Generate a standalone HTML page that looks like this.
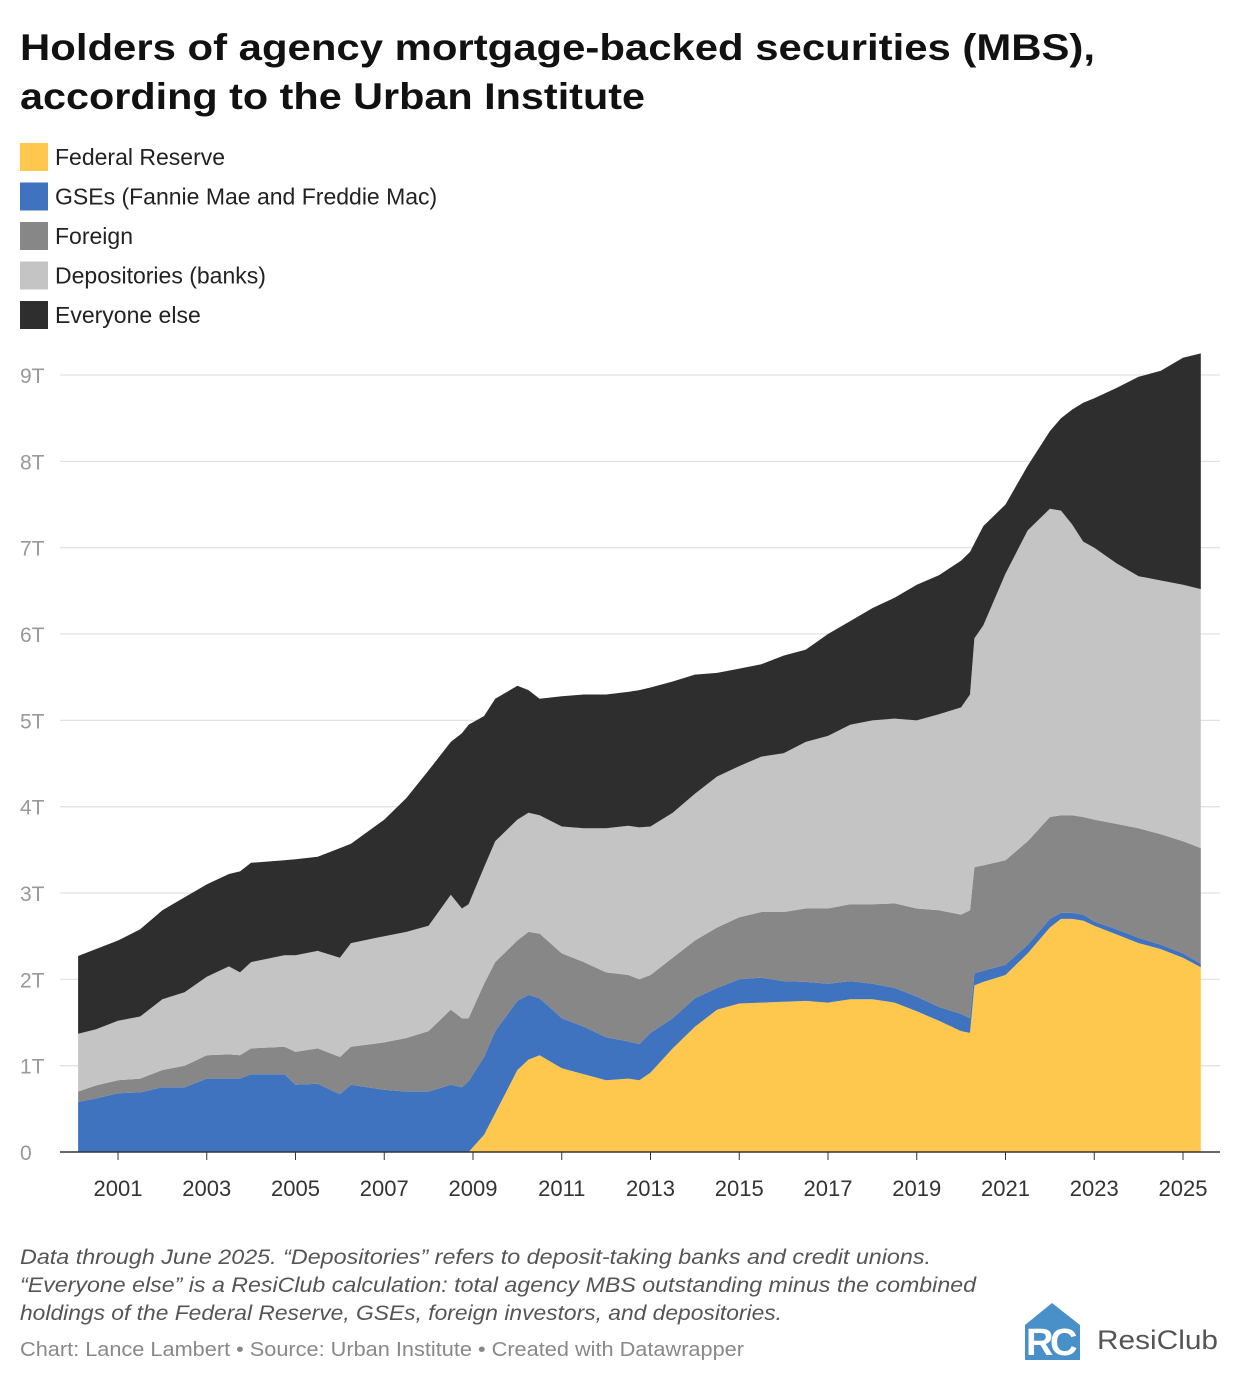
<!DOCTYPE html>
<html><head><meta charset="utf-8"><style>
body{margin:0;background:#fff;}
svg{display:block;font-family:"Liberation Sans",sans-serif;}
</style></head><body>
<svg width="1240" height="1382" viewBox="0 0 1240 1382" xmlns="http://www.w3.org/2000/svg">
<rect width="1240" height="1382" fill="#fff"/>
<g font-weight="bold" font-size="37" fill="#111">
<text x="20" y="60" textLength="1075" lengthAdjust="spacingAndGlyphs">Holders of agency mortgage-backed securities (MBS),</text>
<text x="20" y="109" textLength="625" lengthAdjust="spacingAndGlyphs">according to the Urban Institute</text>
</g>
<g id="legend" font-size="23" fill="#222"></g>
<g id="grid"></g>
<g id="areas"></g>
<g id="axes"></g>
<g font-size="21" font-style="italic" fill="#555">
<text x="20" y="1264" textLength="911" lengthAdjust="spacingAndGlyphs">Data through June 2025. “Depositories” refers to deposit-taking banks and credit unions.</text>
<text x="20" y="1292" textLength="956" lengthAdjust="spacingAndGlyphs">“Everyone else” is a ResiClub calculation: total agency MBS outstanding minus the combined</text>
<text x="20" y="1320" textLength="762" lengthAdjust="spacingAndGlyphs">holdings of the Federal Reserve, GSEs, foreign investors, and depositories.</text>
</g>
<text x="20" y="1356" font-size="20" fill="#888" textLength="724" lengthAdjust="spacingAndGlyphs">Chart: Lance Lambert • Source: Urban Institute • Created with Datawrapper</text>
<g>
<path d="M1025 1325 L1052 1303 L1080 1325 L1080 1360 L1025 1360 Z" fill="#4a90c8"/>
<text x="1026" y="1355" font-size="38" font-weight="bold" fill="#fff">R</text>
<text x="1050" y="1355" font-size="38" font-weight="bold" fill="#fff">C</text>
<text x="1097" y="1349" font-size="27" fill="#555" textLength="121" lengthAdjust="spacingAndGlyphs">ResiClub</text>
</g>
</svg>
<script>
const dates=[2000.1,2000.5,2001,2001.5,2002,2002.5,2003,2003.5,2003.75,2004,2004.75,2005,2005.5,2006,2006.25,2007,2007.5,2008,2008.5,2008.75,2008.9,2009.25,2009.5,2010,2010.25,2010.5,2011,2011.5,2012,2012.5,2012.75,2013,2013.5,2014,2014.5,2015,2015.5,2016,2016.5,2017,2017.5,2018,2018.5,2019,2019.5,2020,2020.2,2020.3,2020.5,2021,2021.5,2022,2022.25,2022.5,2022.75,2023,2023.5,2024,2024.5,2025,2025.4];
const fed=[0,0,0,0,0,0,0,0,0,0,0,0,0,0,0,0,0,0,0,0,0,.2,.45,.95,1.07,1.12,.97,.90,.83,.85,.83,.92,1.20,1.45,1.65,1.72,1.73,1.74,1.75,1.73,1.77,1.77,1.73,1.63,1.52,1.40,1.38,1.93,1.97,2.05,2.30,2.60,2.70,2.70,2.68,2.62,2.52,2.42,2.35,2.25,2.14];
const gse=[.58,.62,.68,.69,.75,.75,.85,.85,.85,.90,.90,.78,.79,.67,.78,.72,.70,.70,.78,.75,.82,.9,.95,.80,.75,.66,.58,.55,.50,.43,.42,.46,.35,.33,.25,.28,.29,.24,.22,.22,.21,.18,.17,.17,.16,.20,.17,.14,.13,.12,.10,.10,.07,.07,.07,.05,.06,.06,.05,.05,.04];
const foreign=[.12,.15,.15,.16,.20,.25,.27,.28,.27,.30,.32,.38,.41,.43,.44,.55,.62,.70,.87,.80,.73,.85,.8,.70,.73,.75,.75,.75,.75,.77,.75,.67,.70,.67,.70,.72,.76,.80,.85,.87,.89,.92,.98,1.02,1.12,1.15,1.25,1.23,1.22,1.21,1.20,1.18,1.13,1.13,1.13,1.18,1.22,1.27,1.28,1.30,1.34];
const depositories=[.67,.65,.69,.72,.82,.85,.91,1.02,.96,1.00,1.06,1.12,1.13,1.15,1.20,1.23,1.23,1.22,1.33,1.27,1.32,1.35,1.4,1.40,1.38,1.37,1.47,1.55,1.67,1.73,1.76,1.72,1.68,1.70,1.75,1.75,1.80,1.84,1.93,2.00,2.08,2.13,2.14,2.18,2.27,2.40,2.50,2.65,2.78,3.32,3.60,3.57,3.53,3.37,3.19,3.15,3.02,2.92,2.94,2.97,3.00];
const everyoneElse=[.90,.93,.93,1.01,1.03,1.10,1.07,1.07,1.17,1.15,1.10,1.11,1.09,1.27,1.15,1.35,1.55,1.80,1.77,2.03,2.08,1.75,1.65,1.55,1.42,1.35,1.51,1.55,1.55,1.55,1.59,1.61,1.52,1.38,1.20,1.13,1.07,1.13,1.07,1.18,1.20,1.30,1.40,1.57,1.61,1.70,1.65,1.10,1.15,.80,.75,.90,1.07,1.33,1.61,1.73,2.03,2.31,2.43,2.63,2.73];
const yTicks=[0,1,2,3,4,5,6,7,8,9];
const yTickLabels=["0","1T","2T","3T","4T","5T","6T","7T","8T","9T"];
const xTicks=[2001,2003,2005,2007,2009,2011,2013,2015,2017,2019,2021,2023,2025];
const seriesNames=["Federal Reserve","GSEs (Fannie Mae and Freddie Mac)","Foreign","Depositories (banks)","Everyone else"];
const seriesData=[fed,gse,foreign,depositories,everyoneElse];
const colors=["#fec84e","#3f72bf","#878787","#c4c4c4","#2e2e2e"];
const NS="http://www.w3.org/2000/svg";
const x=t=>118+(t-2001)*44.375;
const y=v=>1152-v*86.33;
function mk(tag,attrs,parent){const e=document.createElementNS(NS,tag);for(const k in attrs)e.setAttribute(k,attrs[k]);parent.appendChild(e);return e;}
const grid=document.getElementById('grid'),axes=document.getElementById('axes'),areas=document.getElementById('areas'),legend=document.getElementById('legend');
yTicks.forEach((v,i)=>{
  if(v>0){const l=mk('line',{x1:60,x2:1220,y1:y(v),y2:y(v),stroke:'#e2e2e2','stroke-width':1.3},grid);
  
  }
  const t=mk('text',{x:20,y:y(v)+8,'font-size':21,fill:'#999'},axes);t.textContent=yTickLabels[i];
  
  
});
let base=dates.map(()=>0);
seriesData.forEach((s,si)=>{
  const top=base.map((b,i)=>b+s[i]);
  let d='M'+dates.map((t,i)=>x(t).toFixed(1)+','+y(top[i]).toFixed(1)).join('L');
  for(let i=dates.length-1;i>=0;i--)d+='L'+x(dates[i]).toFixed(1)+','+y(base[i]).toFixed(1);
  const p=mk('path',{d:d+'Z',fill:colors[si]},areas);
  
  
  base=top;
  const r=mk('rect',{x:20,y:143+si*39.5,width:28,height:28,fill:colors[si]},legend);
  
  
  const lt=mk('text',{x:55,y:165+si*39.5},legend);lt.textContent=seriesNames[si];
  
  
});
const ax=mk('line',{x1:60,x2:1220,y1:1152,y2:1152,stroke:'#333','stroke-width':1.5},axes);


xTicks.forEach(t=>{
  const tk=mk('line',{x1:x(t),x2:x(t),y1:1152,y2:1160,stroke:'#333','stroke-width':1},axes);
  
  
  const tl=mk('text',{x:x(t),y:1196,'font-size':22,fill:'#333','text-anchor':'middle'},axes);tl.textContent=t;
  
  
});
</script>
</body></html>
